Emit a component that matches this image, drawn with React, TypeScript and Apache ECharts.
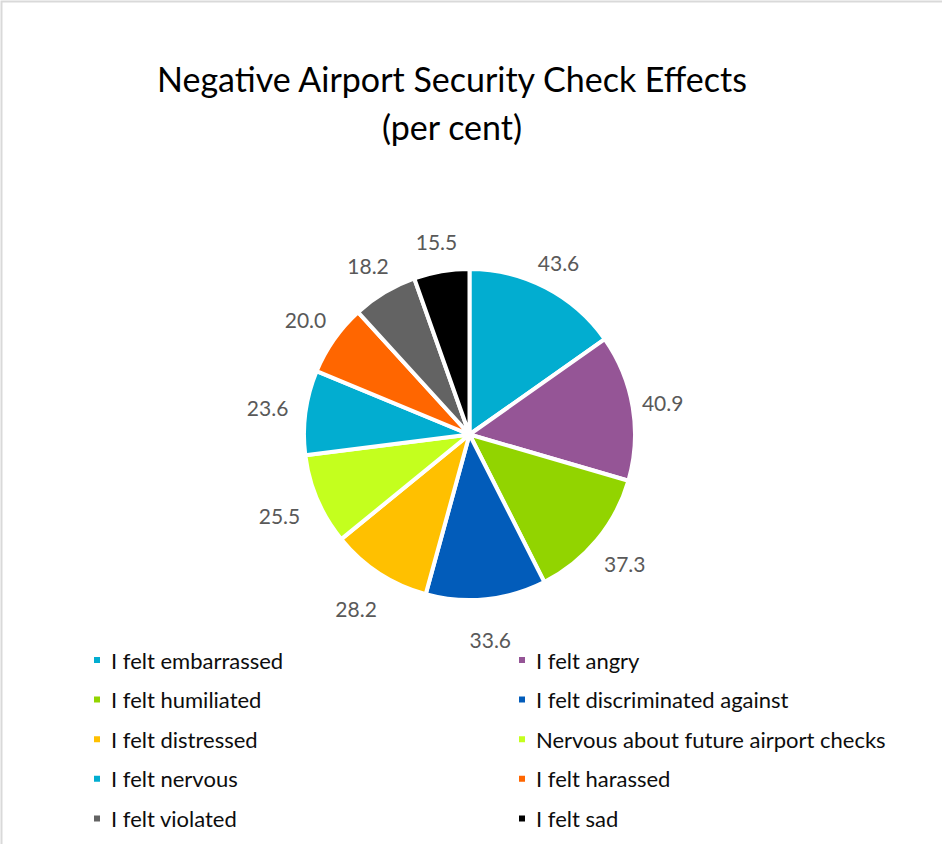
import React, { useEffect, useRef } from "react";
import * as echarts from "echarts";

const categories = [
  "I felt embarrassed",
  "I felt angry",
  "I felt humiliated",
  "I felt discriminated against",
  "I felt distressed",
  "Nervous about future airport checks",
  "I felt nervous",
  "I felt harassed",
  "I felt violated",
  "I felt sad",
];
const values = [43.6, 40.9, 37.3, 33.6, 28.2, 25.5, 23.6, 20.0, 18.2, 15.5];
const colors = [
  "#02ADD0",
  "#955596",
  "#92D400",
  "#025CBA",
  "#FFC000",
  "#C4FF1E",
  "#02ADD0",
  "#FF6600",
  "#636363",
  "#000000",
];
const titleText = "Negative Airport Security Check Effects\n(per cent)";

const CX = 469.5;
const CY = 434.5;
const R = 165.5;

export default function App() {
  const ref = useRef<HTMLDivElement>(null);
  useEffect(() => {
    document.body.style.margin = "0";
    const chart = echarts.init(ref.current!, null, { renderer: "svg" });
    const total = values.reduce((a, b) => a + b, 0);
    const mids: number[] = [];
    let acc = 0;
    values.forEach((v) => {
      mids.push(((acc + v / 2) / total) * Math.PI * 2);
      acc += v;
    });
    const font = "Lato, 'Open Sans', sans-serif";
    const legendCommon = {
      orient: "vertical",
      icon: "rect",
      itemWidth: 8,
      itemHeight: 8,
      itemGap: 17.6,
      padding: 0,
      selectedMode: false,
      textStyle: {
        fontFamily: font,
        fontSize: 22,
        lineHeight: 22,
        color: "#0d0d0d",
        padding: [0, 0, 0, 5],
      },
    };
    chart.setOption({
      animation: false,
      backgroundColor: "#fff",
      color: colors,
      title: {
        text: titleText,
        left: 447,
        top: 49,
        textAlign: "center",
        textStyle: {
          fontFamily: font,
          fontSize: 34,
          fontWeight: "normal",
          lineHeight: 48,
          color: "#000",
        },
      },
      legend: [
        {
          ...legendCommon,
          left: 92,
          top: 649,
          data: categories.filter((_, i) => i % 2 === 0),
        },
        {
          ...legendCommon,
          left: 517,
          top: 649,
          data: categories.filter((_, i) => i % 2 === 1),
        },
      ],
      graphic: [
        {
          type: "rect",
          shape: { x: 1.5, y: 1.5, width: 1000, height: 1000 },
          style: { fill: "none", stroke: "#d9d9d9", lineWidth: 2 },
          silent: true,
        },
      ],
      series: [
        {
          type: "pie",
          center: [CX, CY],
          radius: R,
          startAngle: 90,
          clockwise: true,
          avoidLabelOverlap: false,
          itemStyle: { borderColor: "#fff", borderWidth: 4 },
          label: {
            show: true,
            position: "outside",
            formatter: (p: any) => Number(p.value).toFixed(1),
            fontFamily: font,
            fontSize: 21,
            color: "#595959",
          },
          labelLine: { show: false },
          labelLayout: (p: any) => {
            const a = mids[p.dataIndex];
            const d = 200.7 - 6.1 * Math.cos(a) - 3.9 * Math.sin(a);
            return {
              x: CX + d * Math.sin(a),
              y: CY - d * Math.cos(a),
              align: "center",
              verticalAlign: "middle",
            };
          },
          emphasis: { disabled: true },
          data: categories.map((c, i) => ({ name: c, value: values[i] })),
        },
      ],
    });
    return () => chart.dispose();
  }, []);
  return <div ref={ref} style={{ width: 942, height: 844 }} />;
}
